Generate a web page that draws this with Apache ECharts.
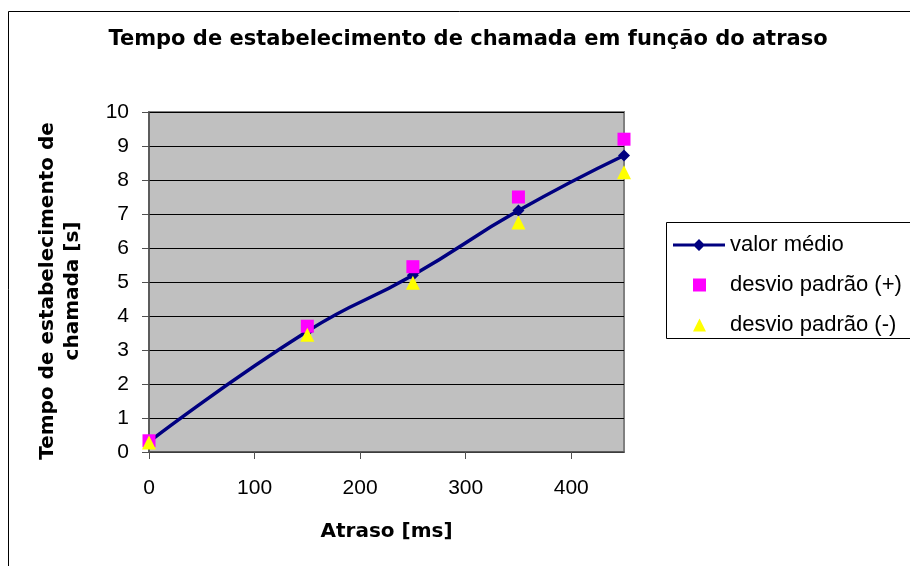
<!DOCTYPE html>
<html>
<head>
<meta charset="utf-8">
<script src="https://cdn.jsdelivr.net/npm/echarts@6/dist/echarts.min.js"></script>
<style>
html,body{margin:0;padding:0;background:#fff;}
#chart{width:910px;height:566px;}
</style>
</head>
<body>
<div id="chart"></div>
<script>
var delays = [0, 150, 250, 350, 450];
var meanValues = [0.3, 3.55, 5.2, 7.1, 8.72];
var plusValues = [0.33, 3.7, 5.45, 7.5, 9.2];
var minusValues = [0.28, 3.45, 4.98, 6.75, 8.23];
var xTicks = [0, 100, 200, 300, 400];
var yTicks = [0, 1, 2, 3, 4, 5, 6, 7, 8, 9, 10];
var titleText = 'Tempo de estabelecimento de chamada em função do atraso';
var xName = 'Atraso [ms]';
var yName = 'Tempo de estabelecimento de\nchamada [s]';
var seriesNames = ['valor médio', 'desvio padrão (+)', 'desvio padrão (-)'];

function pairs(xs, ys) { return xs.map(function (x, i) { return [x, ys[i]]; }); }

var chart = echarts.init(document.getElementById('chart'), null, {renderer: 'canvas'});
var boldFont = '"DejaVu Sans", sans-serif';
var plainFont = '"Liberation Sans", Arial, sans-serif';

// legend icons (52x13 box with invisible corner points so the mark keeps its size)
var iconLine = 'path://M0,0L0,0M52,13L52,13M0,5L52,5L52,8L0,8ZM26,0.5L32,6.5L26,12.5L20,6.5Z';
var iconSquare = 'path://M0,0L0,0M52,13L52,13M20,0L33,0L33,13L20,13Z';
var iconTriangle = 'path://M0,0L0,0M52,13L52,13M26.5,0L33,13L20,13Z';

chart.setOption({
  backgroundColor: '#ffffff',
  animation: false,
  graphic: [{
    type: 'polyline',
    shape: {points: [[1000, 11.5], [8.5, 11.5], [8.5, 1000]]},
    style: {fill: null, stroke: '#000', lineWidth: 1},
    z: -1, silent: true
  }, {
    type: 'polyline',
    shape: {points: [[1000, 222.5], [666.5, 222.5], [666.5, 338.5], [1000, 338.5]]},
    style: {fill: null, stroke: '#000', lineWidth: 1},
    z: 0, silent: true
  }, {
    type: 'rect',
    shape: {x: 905, y: 223.5, width: 20, height: 114},
    style: {fill: '#fff', stroke: null},
    z: 100, silent: true
  }, {
    type: 'text',
    x: 468, y: 29,
    style: {
      text: titleText, align: 'center', verticalAlign: 'top',
      font: 'bold 21px "DejaVu Sans", sans-serif', fill: '#000'
    },
    silent: true
  }],
  grid: {
    left: 149, top: 112, width: 475, height: 340,
    show: true, backgroundColor: '#c0c0c0', borderColor: '#808080', borderWidth: 2,
    containLabel: false
  },
  legend: {
    orient: 'vertical',
    left: 666, top: 224,
    padding: [10, 0, 5, 7],
    itemGap: 18,
    itemWidth: 52, itemHeight: 13,
    borderWidth: 0,
    backgroundColor: 'transparent',
    z: 10,
    textStyle: {fontFamily: plainFont, fontSize: 22, color: '#000'},
    data: [
      {name: seriesNames[0], icon: iconLine},
      {name: seriesNames[1], icon: iconSquare},
      {name: seriesNames[2], icon: iconTriangle}
    ]
  },
  xAxis: {
    type: 'value', min: 0, max: 450, interval: 100,
    name: xName, nameLocation: 'middle', nameGap: 70,
    nameTextStyle: {fontFamily: boldFont, fontWeight: 'bold', fontSize: 20, color: '#000'},
    axisLine: {show: true, onZero: false, lineStyle: {color: '#505050', width: 1.5}},
    axisTick: {show: true, length: 7, lineStyle: {color: '#505050'}},
    axisLabel: {margin: 26, showMaxLabel: false, fontFamily: plainFont, fontSize: 21, color: '#000'},
    splitLine: {show: false}
  },
  yAxis: {
    type: 'value', min: 0, max: 10, interval: 1,
    name: yName, nameLocation: 'middle', nameGap: 64, nameRotate: 90,
    nameTextStyle: {fontFamily: boldFont, fontWeight: 'bold', fontSize: 20, lineHeight: 25, color: '#000', padding: [0, 18, 0, 0]},
    axisLine: {show: true, onZero: false, lineStyle: {color: '#505050', width: 1.5}},
    axisTick: {show: true, length: 7, lineStyle: {color: '#505050'}},
    axisLabel: {margin: 20, fontFamily: plainFont, fontSize: 21, color: '#000'},
    splitLine: {show: true, lineStyle: {color: '#000', width: 1}}
  },
  series: [
    {
      name: seriesNames[0], type: 'line', data: pairs(delays, meanValues),
      smooth: 0.5, symbol: 'diamond', symbolSize: 12, showSymbol: true,
      lineStyle: {color: '#000080', width: 3.5},
      itemStyle: {color: '#000080'}, z: 2
    },
    {
      name: seriesNames[1], type: 'scatter', data: pairs(delays, plusValues),
      symbol: 'rect', symbolSize: 13,
      itemStyle: {color: '#ff00ff', opacity: 1}, z: 3
    },
    {
      name: seriesNames[2], type: 'scatter', data: pairs(delays, minusValues),
      symbol: 'triangle', symbolSize: 14,
      itemStyle: {color: '#ffff00', opacity: 1}, z: 4
    }
  ]
});
</script>
</body>
</html>
